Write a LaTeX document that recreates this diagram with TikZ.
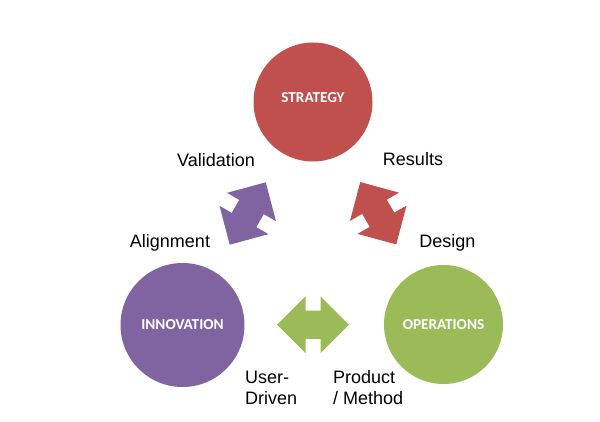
\documentclass[tikz,border=0pt]{standalone}
\usepackage{fontspec}
\setmainfont{Liberation Sans}
\newfontfamily\circfont{Carlito Bold}
\usetikzlibrary{calc}
\definecolor{stratred}{HTML}{C0504D}
\definecolor{innopurple}{HTML}{8064A2}
\definecolor{opergreen}{HTML}{9BBB59}
\tikzset{
  area/.style={circle, inner sep=0pt, minimum size=119pt, text=white,
    font=\circfont\fontsize{15.2}{17}\selectfont},
  tag/.style={inner sep=0pt, align=left, font=\fontsize{18}{21}\selectfont},
}
\begin{document}
\begin{tikzpicture}[x=1pt,y=1pt]
  \useasboundingbox (0,0) rectangle (600,421);

  \node[area, fill=stratred, text depth=8pt] (strat) at (313,319) {STRATEGY};
  \node[area, fill=innopurple, minimum size=124pt] (inno) at (182.5,96) {INNOVATION};
  \node[area, fill=opergreen] (oper) at (443.5,96.5) {OPERATIONS};

  % block arrows half way between the circles
  \foreach \a/\b/\ang/\col in {inno/strat/60/innopurple, strat/oper/-60/stratred, inno/oper/0/opergreen}
    \fill[\col, shift={($(\a)!0.5!(\b)$)}, rotate=\ang]
      (-36,0) -- (-7.5,28.3) -- (-7.5,14.2) -- (7.5,14.2) -- (7.5,28.3) -- (36,0)
      -- (7.5,-28.3) -- (7.5,-14.2) -- (-7.5,-14.2) -- (-7.5,-28.3) -- cycle;

  \node[tag, anchor=base] (valid) at (216,254) {Validation};
  \node[tag, anchor=base] (align) at (170,174) {Alignment};
  \node[tag, anchor=base] (result) at (413,255) {Results};
  \node[tag, anchor=base] (design) at (447.5,174) {Design};
  \node[tag, anchor=base west] (user) at (245,17) {User-\\Driven};
  \node[tag, anchor=base west] (prod) at (333,17) {Product\\/ Method};
\end{tikzpicture}
\end{document}
